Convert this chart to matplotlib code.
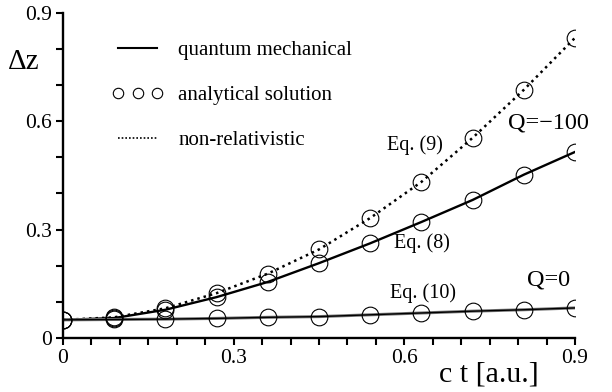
import matplotlib
matplotlib.use("Agg")
import matplotlib.pyplot as plt
from matplotlib.lines import Line2D
from matplotlib.ticker import MultipleLocator

plt.rcParams['font.family'] = ['Liberation Serif', 'DejaVu Serif']
plt.rcParams['mathtext.fontset'] = 'stix'

ct = [0.0, 0.09, 0.18, 0.27, 0.36, 0.45, 0.54, 0.63, 0.72, 0.81, 0.90]
dz_q100 = [0.050, 0.055, 0.078, 0.113, 0.155, 0.207, 0.262, 0.321, 0.382, 0.452, 0.515]
dz_nonrel = [0.050, 0.057, 0.082, 0.124, 0.178, 0.245, 0.332, 0.432, 0.554, 0.687, 0.831]
dz_q0 = [0.050, 0.051, 0.052, 0.054, 0.057, 0.059, 0.064, 0.069, 0.074, 0.078, 0.083]

fig = plt.figure(figsize=(6.12, 3.92), dpi=100)
ax = fig.add_axes([0.103, 0.138, 0.8365, 0.829])

lw = 1.7
ax.plot(ct, dz_nonrel, color='black', ls=(0, (1, 1.6)), lw=1.8)
ax.plot(ct, dz_q100, color='black', lw=lw)
ax.plot(ct, dz_q0, color='#777777', lw=2.2)
ax.plot(ct, dz_q0, color='black', lw=1.0)
ms = 12
for ys in (dz_nonrel, dz_q100, dz_q0):
    ax.plot(ct, ys, ls='none', marker='o', ms=ms, mfc='none', mec='black', mew=0.8)

ax.set_xlim(0, 0.9)
ax.set_ylim(0, 0.9)
ax.xaxis.set_minor_locator(MultipleLocator(0.05))
ax.yaxis.set_minor_locator(MultipleLocator(0.1))
ax.set_xticks([0, 0.3, 0.6, 0.9])
ax.set_xticklabels(['0', '0.3', '0.6', '0.9'])
ax.set_yticks([0, 0.3, 0.6, 0.9])
ax.set_yticklabels(['0', '0.3', '0.6', '0.9'])
ax.tick_params(which='both', direction='out', width=1.5, length=5, labelsize=15.5, pad=3)
for s in ('top', 'right'):
    ax.spines[s].set_visible(False)
for s in ('left', 'bottom'):
    ax.spines[s].set_linewidth(1.7)

ax.text(-0.07, 0.765, 'Δz', fontsize=21, ha='center', va='center')
ax.text(0.748, -0.102, 'c t [a.u.]', fontsize=21.5, ha='center', va='center')

handles = [
    Line2D([], [], color='black', lw=1.5),
    Line2D([], [], ls='none', marker='o', ms=7.5, mfc='none', mec='black', mew=0.8),
    Line2D([], [], color='black', ls=(0, (1, 1.2)), lw=1.2),
]
labels = ['quantum mechanical', 'analytical solution', 'non-relativistic']
leg = ax.legend(handles, labels, loc='upper left', bbox_to_anchor=(0.058, 0.972),
                frameon=False, numpoints=3, handlelength=2.5, handletextpad=0.7,
                labelspacing=1.22, fontsize=15)

ax.text(0.619, 0.534, 'Eq. (9)', fontsize=14.5, ha='center', va='center')
ax.text(0.631, 0.263, 'Eq. (8)', fontsize=14.5, ha='center', va='center')
ax.text(0.633, 0.125, 'Eq. (10)', fontsize=14.5, ha='center', va='center')
ax.text(0.854, 0.595, 'Q=\u2212100', fontsize=17.5, ha='center', va='center')
ax.text(0.854, 0.161, 'Q=0', fontsize=17.5, ha='center', va='center')

fig.savefig('out.png', dpi=100)
